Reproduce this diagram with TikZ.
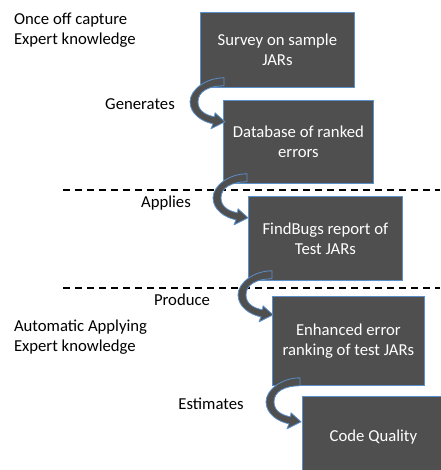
\documentclass[tikz,border=0pt]{standalone}
\usepackage{fontspec}
\setmainfont{Carlito}
\usetikzlibrary{calc}
\definecolor{boxgray}{HTML}{4F4F4F}
\definecolor{boxblue}{HTML}{5B8FC9}
\tikzset{
  stage/.style={draw=boxblue, line width=0.8pt, fill=boxgray, text=white,
    font=\fontsize{16.7}{20}\selectfont, align=center, inner sep=0pt, anchor=north west},
  note/.style={font=\fontsize{16.7}{19.5}\selectfont, align=left, anchor=west},
  verb/.style={font=\fontsize{16.7}{20}\selectfont},
  sepline/.style={line width=1.6pt, dash pattern=on 7pt off 5pt},
  bentarrow/.pic={
    \draw[boxblue, line width=0.8pt, fill=boxgray, line join=round]
      (24,-10) .. controls (6,-10) and (-10,2) .. (-10,14)
      .. controls (-10,26) and (2,34) .. (13,36)
      -- (11,41) -- (25,34) -- (15,25) -- (14.5,29)
      .. controls (4,27) and (-2,22) .. (-2,14)
      .. controls (-2,4) and (8,-2) .. (24,-2) -- cycle;
  }
}

\begin{document}
\begin{tikzpicture}[x=1pt, y=-1pt]
\useasboundingbox (0,0) rectangle (440,470);

% Phase separators
\draw[sepline] (63,190) -- (440,190);
\draw[sepline] (63,288) -- (440,288);

% Phase notes
\node[note] (capture) at (10.5,30) {Once off capture\\Expert knowledge};
\node[note] (applying) at (10.5,337) {Automatic Applying\\Expert knowledge};

% Stages
\node[stage, minimum width=154pt, minimum height=75pt] (survey) at (200,12) {Survey on sample\\JARs};
\node[stage, minimum width=150pt, minimum height=83pt] (database) at (223,100) {Database of ranked\\errors};
\node[stage, minimum width=154pt, minimum height=84pt] (findbugs) at (248,196) {FindBugs report of\\Test JARs};
\node[stage, minimum width=152pt, minimum height=89pt] (ranking) at (272,296) {Enhanced error\\ranking of test JARs};
\node[stage, minimum width=142pt, minimum height=82pt] (quality) at (302,396) {Code Quality};

% Bent arrows between stages
\pic at (survey.south west) {bentarrow};
\pic at (database.south west) {bentarrow};
\pic at (findbugs.south west) {bentarrow};
\pic at ($(ranking.south west)+(4,2)$) {bentarrow};

% Arrow labels
\node[verb] (generates) at (140,104) {Generates};
\node[verb] (applies) at (166,203) {Applies};
\node[verb] (produce) at (182,300) {Produce};
\node[verb] (estimates) at (211,404) {Estimates};

\end{tikzpicture}
\end{document}
